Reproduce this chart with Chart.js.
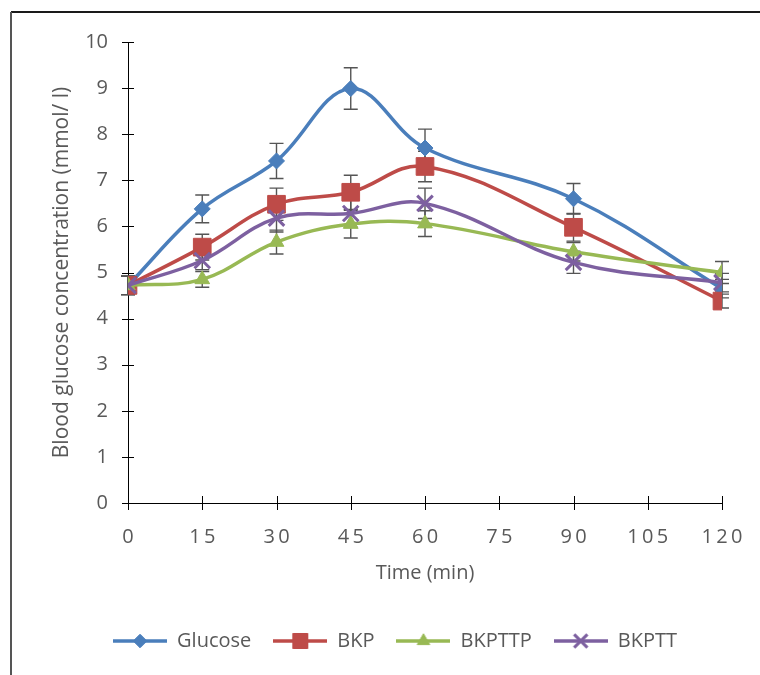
<!DOCTYPE html>
<html>
<head>
<meta charset="utf-8">
<script src="https://cdn.jsdelivr.net/npm/chart.js@4.4.1/dist/chart.umd.min.js"></script>
<style>
  html, body { margin: 0; padding: 0; background: #fff; }
  #wrap { width: 760px; height: 675px; position: relative; }
</style>
</head>
<body>
<div id="wrap"><canvas id="bgChart" width="760" height="675"></canvas></div>
<script>
// time points (min) and tick labels
const times = [0, 15, 30, 45, 60, 90, 120]
const xTicks = [0, 15, 30, 45, 60, 75, 90, 105, 120]
const yTicks = [0, 1, 2, 3, 4, 5, 6, 7, 8, 9, 10]
const seriesNames = ["Glucose", "BKP", "BKPTTP", "BKPTT"]

// blood glucose (mmol/l) and error bars
const glucose = [4.72, 6.38, 7.42, 8.99, 7.70, 6.60, 4.65]
const glucoseErr = [0.2, 0.30, 0.38, 0.45, 0.41, 0.33, 0.2]
const bkp = [4.72, 5.55, 6.48, 6.74, 7.30, 5.98, 4.38]
const bkpErr = [0.2, 0.28, 0.35, 0.37, 0.33, 0.30, 0.15]
const bkpttp = [4.72, 4.85, 5.66, 6.05, 6.06, 5.45, 5.00]
const bkpttpErr = [0.2, 0.17, 0.26, 0.30, 0.28, 0.20, 0.24]
const bkptt = [4.72, 5.26, 6.18, 6.28, 6.50, 5.22, 4.78]
const bkpttErr = [0.2, 0.20, 0.30, 0.30, 0.33, 0.24, 0.20]

const colors = ["#4A7EBB", "#BE4B48", "#98B954", "#7D60A0"]
const markers = [
    { style: "rectRot", radius: 8 },
    { style: "rect", radius: 12.5 },
    { style: "triangle", radius: 8.5 },
    { style: "crossRot", radius: 11 }
]
const values = [glucose, bkp, bkpttp, bkptt]
const errors = [glucoseErr, bkpErr, bkpttpErr, bkpttErr]

const font = "'Open Sans', 'DejaVu Sans', sans-serif"
const textColor = "#595959"

const datasets = seriesNames.map((name, i) => ({
    label: name,
    data: times.map((t, j) => ({ x: t, y: values[i][j] })),
    errors: errors[i],
    borderColor: colors[i],
    backgroundColor: colors[i],
    borderWidth: 3.5,
    tension: 0.38,
    pointStyle: markers[i].style,
    pointRadius: markers[i].radius,
    pointBorderWidth: markers[i].style === "crossRot" ? 3 : 1,
    pointBorderColor: colors[i],
    pointBackgroundColor: colors[i],
    order: seriesNames.length - i
}))

// legend sample: line with the marker on it
function legendSample(i) {
    const c = document.createElement("canvas")
    c.width = 54
    c.height = 24
    const g = c.getContext("2d")
    g.strokeStyle = colors[i]
    g.fillStyle = colors[i]
    g.lineWidth = 3.5
    g.beginPath()
    g.moveTo(0, 12)
    g.lineTo(54, 12)
    g.stroke()
    const m = markers[i]
    g.lineWidth = m.style === "crossRot" ? 3 : 1
    Chart.helpers.drawPoint(g, { pointStyle: m.style, radius: m.radius * 0.85, rotation: 0, borderWidth: g.lineWidth }, 27, 12)
    return c
}

const errorBars = {
    id: "errorBars",
    beforeDatasetsDraw(chart) {
        const { ctx, scales: { x, y } } = chart
        ctx.save()
        ctx.strokeStyle = "#555555"
        ctx.lineWidth = 1.4
        chart.data.datasets.forEach(ds => {
            ds.data.forEach((p, j) => {
                const e = ds.errors[j]
                const px = x.getPixelForValue(p.x)
                const top = y.getPixelForValue(p.y + e)
                const bot = y.getPixelForValue(p.y - e)
                ctx.beginPath()
                ctx.moveTo(px, top); ctx.lineTo(px, bot)
                ctx.moveTo(px - 7, top); ctx.lineTo(px + 7, top)
                ctx.moveTo(px - 7, bot); ctx.lineTo(px + 7, bot)
                ctx.stroke()
            })
        })
        ctx.restore()
    }
}

// tick marks crossing the axes, and the frame of the picture
const axisMarks = {
    id: "axisMarks",
    beforeDraw(chart) {
        const { ctx } = chart
        ctx.save()
        ctx.fillStyle = "#fff"
        ctx.fillRect(0, 0, chart.width, chart.height)
        ctx.strokeStyle = "#1a1a1a"
        ctx.lineWidth = 2
        ctx.beginPath()
        ctx.moveTo(11, 12); ctx.lineTo(chart.width, 12)
        ctx.stroke()
        ctx.strokeStyle = "#555"
        ctx.beginPath()
        ctx.moveTo(11, 12); ctx.lineTo(11, chart.height)
        ctx.stroke()
        ctx.restore()
    },
    afterDraw(chart) {
        const { ctx, scales: { x, y } } = chart
        const ax = x.getPixelForValue(0)
        const ay = y.getPixelForValue(0)
        ctx.save()
        ctx.strokeStyle = "#000"
        ctx.lineWidth = 1
        ctx.beginPath()
        yTicks.forEach(v => {
            const py = Math.round(y.getPixelForValue(v)) + 0.5
            ctx.moveTo(ax - 6, py); ctx.lineTo(ax + 6, py)
        })
        xTicks.forEach(v => {
            const px = Math.round(x.getPixelForValue(v)) + 0.5
            ctx.moveTo(px, ay - 7); ctx.lineTo(px, ay + 7)
        })
        ctx.stroke()
        ctx.restore()
    }
}

new Chart(document.getElementById("bgChart"), {
    type: "line",
    data: { datasets },
    plugins: [errorBars, axisMarks],
    options: {
        responsive: false,
        animation: false,
        events: [],
        layout: { padding: { left: 30, top: 42, right: 0, bottom: 14 } },
        scales: {
            x: {
                type: "linear",
                min: 0,
                max: 120,
                afterBuildTicks: s => { s.ticks = xTicks.map(v => ({ value: v })) },
                afterFit: s => { s.height = 106; s.paddingRight = 38; s.paddingLeft = 0 },
                grid: { drawOnChartArea: false, drawTicks: false },
                border: { display: true, color: "#000", width: 1 },
                ticks: {
                    padding: 22,
                    color: textColor,
                    font: { family: font, size: 20 },
                    maxRotation: 0,
                    callback: v => String(v).split("").join("\u2009")
                },
                title: {
                    display: true,
                    text: "Time (min)",
                    color: textColor,
                    font: { family: font, size: 20 },
                    padding: { top: 0, bottom: 24 }
                }
            },
            y: {
                min: 0,
                max: 10,
                afterBuildTicks: s => { s.ticks = yTicks.map(v => ({ value: v })) },
                afterFit: s => { s.width = 98 },
                grid: { drawOnChartArea: false, drawTicks: false },
                border: { display: true, color: "#000", width: 1 },
                ticks: {
                    padding: 20,
                    color: textColor,
                    font: { family: font, size: 20 }
                },
                title: {
                    display: true,
                    text: "Blood glucose concentration (mmol/ l)",
                    color: textColor,
                    font: { family: font, size: 21 },
                    padding: { top: 19, bottom: 0 }
                }
            }
        },
        plugins: {
            tooltip: { enabled: false },
            legend: {
                position: "bottom",
                labels: {
                    usePointStyle: true,
                    pointStyleWidth: 54,
                    boxHeight: 20,
                    padding: 22,
                    color: textColor,
                    font: { family: font, size: 20 },
                    generateLabels: chart => chart.data.datasets.map((ds, i) => ({
                        text: ds.label,
                        pointStyle: legendSample(i),
                        fillStyle: colors[i],
                        strokeStyle: colors[i],
                        lineWidth: 0,
                        hidden: false,
                        datasetIndex: i,
                        fontColor: textColor
                    }))
                }
            }
        }
    }
})
</script>
</body>
</html>
